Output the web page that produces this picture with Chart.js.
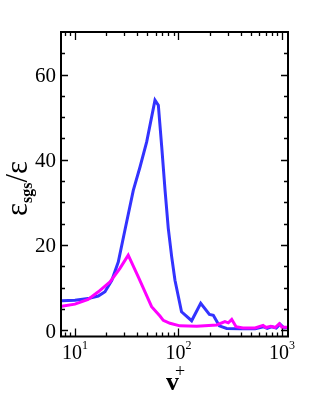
<!DOCTYPE html>
<html>
<head>
<meta charset="utf-8">
<script src="https://cdn.jsdelivr.net/npm/chart.js@4/dist/chart.umd.min.js"></script>
<style>
  html, body { margin: 0; padding: 0; background: #fff; }
  #wrap { width: 314px; height: 393px; }
</style>
</head>
<body>
<div id="wrap"><canvas id="chart" width="314" height="393"></canvas></div>
<script>
/*=================================
      data
=================================*/
var blueX = [7.43, 10, 13.4, 16.8, 19.5, 22.7, 26.2, 30.4, 36.6, 42.5, 49.3, 59.3, 63.9, 68.9, 74.2, 79.7, 86, 92.5, 107, 134, 164, 199, 217, 248, 292, 400, 550, 661, 720, 800, 880, 957, 1050, 1140];
var blueY = [6.9, 7.0, 7.4, 8.0, 9.0, 11.7, 16, 23.5, 32.8, 38.3, 44.2, 54, 52.8, 43, 32.8, 23.9, 17.2, 11.7, 4.3, 2.2, 6.3, 3.7, 3.5, 1.0, 0.4, 0.3, 0.3, 0.8, 0.4, 0.8, 0.5, 1.4, 0.5, 0.6];

var magX = [7.43, 10, 13.4, 16.8, 21.8, 27.2, 32.7, 40.9, 55, 66.2, 71.3, 82.8, 103, 150, 234, 281, 303, 327, 360, 419, 550, 656, 700, 780, 860, 942, 1000, 1140];
var magY = [5.6, 6.1, 7.2, 9.0, 11.3, 14.5, 17.6, 12.5, 5.5, 3.3, 2.3, 1.6, 1.0, 0.9, 1.2, 2.0, 1.7, 2.5, 0.8, 0.5, 0.5, 1.1, 0.6, 0.9, 0.6, 1.5, 0.7, 0.7];

var yTicks = [0, 20, 40, 60];
var yMinor = [5, 10, 15, 25, 30, 35, 45, 50, 55, 65];
var xTicks = [10, 100, 1000];
var xTickBase = ["10", "10", "10"];
var xTickExp = ["1", "2", "3"];
var xMinor = [8, 9, 20, 30, 40, 50, 60, 70, 80, 90, 200, 300, 400, 500, 600, 700, 800, 900];

function pts(xs, ys) {
  return xs.map(function (x, i) { return { x: x, y: ys[i] }; });
}

/*=================================
      frame, ticks and labels
=================================*/
var framePlugin = {
  id: "frame",
  afterDraw: function (chart) {
    var ctx = chart.ctx;
    var a = chart.chartArea;
    var sx = chart.scales.x;
    var sy = chart.scales.y;
    ctx.save();
    ctx.strokeStyle = "#000";
    ctx.lineWidth = 2;
    ctx.strokeRect(a.left, a.top, a.right - a.left, a.bottom - a.top);

    ctx.lineWidth = 1.3;
    ctx.beginPath();
    yTicks.forEach(function (v) {
      var p = Math.round(sy.getPixelForValue(v)) + 0.5;
      ctx.moveTo(a.left, p); ctx.lineTo(a.left + 7, p);
      ctx.moveTo(a.right, p); ctx.lineTo(a.right - 7, p);
    });
    yMinor.forEach(function (v) {
      var p = Math.round(sy.getPixelForValue(v)) + 0.5;
      ctx.moveTo(a.left, p); ctx.lineTo(a.left + 4, p);
      ctx.moveTo(a.right, p); ctx.lineTo(a.right - 4, p);
    });
    xTicks.forEach(function (v) {
      var p = Math.round(sx.getPixelForValue(v)) + 0.5;
      ctx.moveTo(p, a.bottom); ctx.lineTo(p, a.bottom - 8);
      ctx.moveTo(p, a.top); ctx.lineTo(p, a.top + 8);
    });
    xMinor.forEach(function (v) {
      var p = Math.round(sx.getPixelForValue(v)) + 0.5;
      ctx.moveTo(p, a.bottom); ctx.lineTo(p, a.bottom - 4);
      ctx.moveTo(p, a.top); ctx.lineTo(p, a.top + 4);
    });
    ctx.stroke();

    // y tick labels
    ctx.fillStyle = "#000";
    ctx.font = "21px 'Liberation Serif'";
    ctx.textAlign = "right";
    ctx.textBaseline = "middle";
    yTicks.forEach(function (v) {
      ctx.fillText(String(v), a.left - 5, sy.getPixelForValue(v) + 2);
    });

    // x tick labels with exponents
    ctx.textBaseline = "alphabetic";
    ctx.textAlign = "left";
    xTicks.forEach(function (v, i) {
      ctx.font = "20px 'Liberation Serif'";
      var w1 = ctx.measureText(xTickBase[i]).width;
      ctx.font = "12px 'Liberation Serif'";
      var w2 = ctx.measureText(xTickExp[i]).width;
      var x0 = sx.getPixelForValue(v) - (w1 + w2) / 2;
      ctx.font = "20px 'Liberation Serif'";
      ctx.fillText(xTickBase[i], x0, 359);
      ctx.font = "12px 'Liberation Serif'";
      ctx.fillText(xTickExp[i], x0 + w1, 349);
    });

    // x title
    ctx.font = "bold 26px 'Liberation Serif'";
    ctx.fillText("v", 166, 390);
    ctx.font = "18px 'Liberation Serif'";
    ctx.fillText("+", 175, 377);

    // y title, rotated
    ctx.translate(27, 216);
    ctx.rotate(-Math.PI / 2);
    var big = "31px 'Liberation Serif'";
    var sub = "bold 16px 'Liberation Serif'";
    var x = 0;
    ctx.font = big;
    ctx.fillText("\u03b5", x, 0);
    x += ctx.measureText("\u03b5").width;
    ctx.font = sub;
    ctx.fillText("sgs", x, 5);
    x += ctx.measureText("sgs").width;
    ctx.font = big;
    ctx.fillText("/", x, 0);
    x += ctx.measureText("/").width;
    ctx.fillText("\u03b5", x, 0);
    ctx.restore();
  },
};

new Chart("chart", {
  type: "line",
  data: {
    datasets: [
      {
        label: "magenta",
        data: pts(magX, magY),
        borderColor: "#ff00ff",
        borderWidth: 3,
        pointRadius: 0,
        tension: 0,
        fill: false,
      },
      {
        label: "blue",
        data: pts(blueX, blueY),
        borderColor: "#3333ff",
        borderWidth: 3,
        pointRadius: 0,
        tension: 0,
        fill: false,
      },
    ],
  },
  options: {
    responsive: false,
    animation: false,
    events: [],
    layout: { padding: { left: 61, top: 32, right: 26, bottom: 56.5 } },
    plugins: { legend: { display: false }, tooltip: { enabled: false } },
    scales: {
      x: { type: "logarithmic", min: 7.33, max: 1143, display: false },
      y: { type: "linear", min: -1.5, max: 70, display: false },
    },
  },
  plugins: [framePlugin],
});
</script>
</body>
</html>
